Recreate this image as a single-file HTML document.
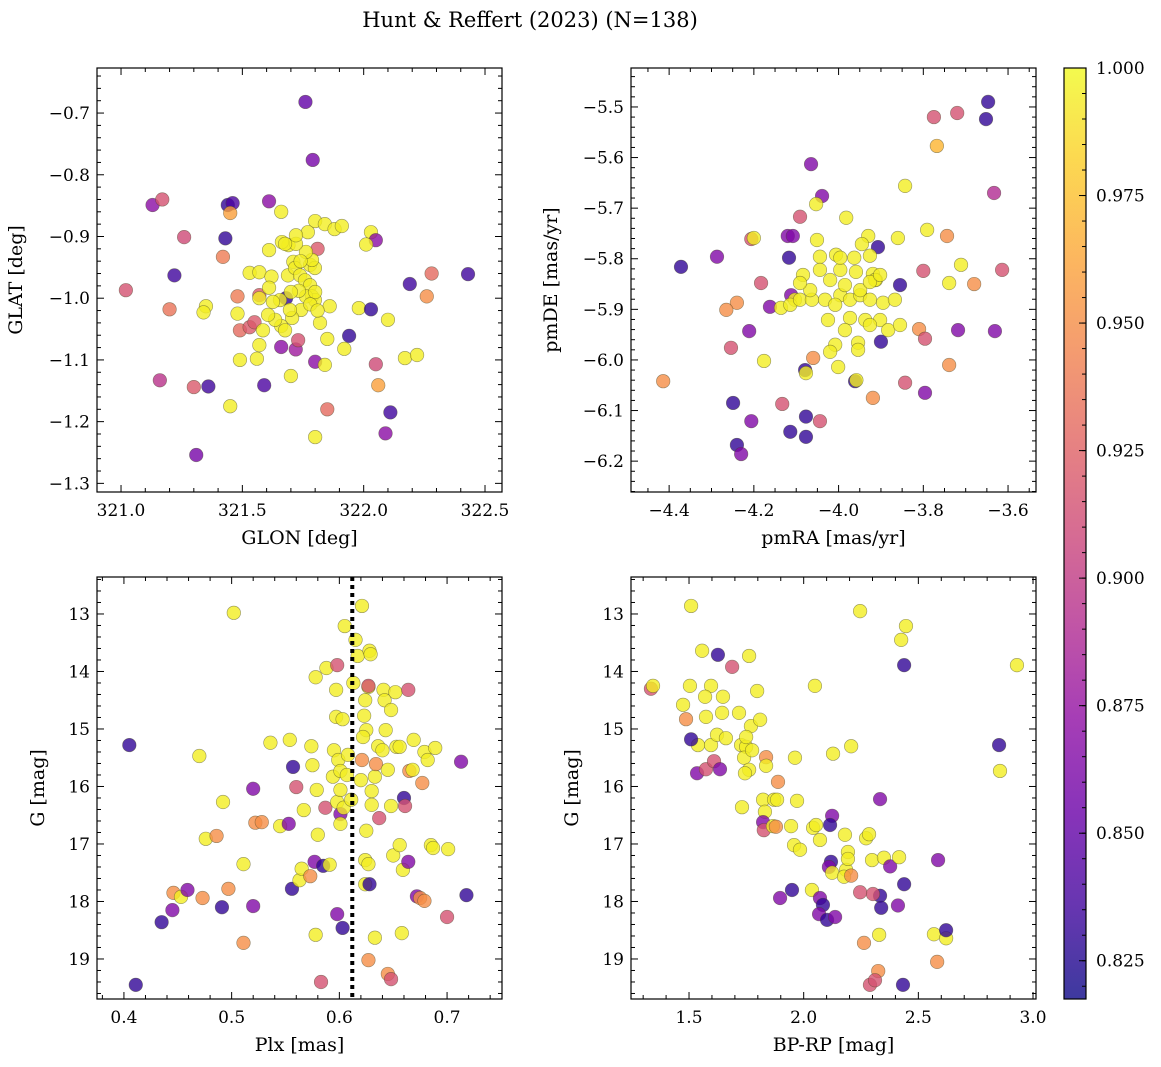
<!DOCTYPE html>
<html><head><meta charset="utf-8">
<style>
html,body{margin:0;padding:0;background:#fff;}
svg{display:block;font-family:"DejaVu Serif","Liberation Serif",serif;}
</style></head>
<body>
<svg id="fig" width="1161" height="1067" viewBox="0 0 1161 1067" xmlns="http://www.w3.org/2000/svg">
<text x="530" y="27" font-size="21" text-anchor="middle">Hunt &amp; Reffert (2023) (N=138)</text>
<defs>
<linearGradient id="cbgrad" x1="0" y1="1" x2="0" y2="0">
<stop offset="0" stop-color="#0d0887"/><stop offset="0.1" stop-color="#41049d"/><stop offset="0.2" stop-color="#6a00a8"/><stop offset="0.3" stop-color="#8f0da4"/><stop offset="0.4" stop-color="#b12a90"/><stop offset="0.5" stop-color="#cc4778"/><stop offset="0.6" stop-color="#e16462"/><stop offset="0.7" stop-color="#f2844b"/><stop offset="0.8" stop-color="#fca636"/><stop offset="0.9" stop-color="#fcce25"/><stop offset="1" stop-color="#f0f921"/>
</linearGradient>
</defs>
</svg>
<script>
// ---------- data ----------
const Y = .995, O = .95, K = .915, U = .865, D = .83;
const skyPoints = [[321.76,-0.682,.85],[321.79,-0.776,.86],[321.02,-0.987,K],[321.13,-0.849,.87],[321.17,-0.840,K],[321.20,-1.018,.935],[321.26,-0.901,.91],[321.22,-0.963,.835],[321.16,-1.133,.895],[321.30,-1.144,.92],[321.36,-1.143,.835],[321.31,-1.254,.86],[321.35,-1.013,Y],[321.34,-1.023,Y],[321.44,-0.849,D],[321.46,-0.846,.84],[321.45,-0.862,.96],[321.43,-0.903,D],[321.42,-0.933,.94],[321.45,-1.175,Y],[321.48,-0.997,.94],[321.48,-1.025,Y],[321.49,-1.052,.93],[321.49,-1.100,Y],[321.53,-0.959,Y],[321.53,-1.047,.92],[321.55,-1.039,.92],[321.57,-0.995,.92],[321.57,-1.000,Y],[321.57,-0.958,Y],[321.56,-1.098,Y],[321.57,-1.076,Y],[321.59,-1.141,.84],[321.61,-0.843,.87],[321.61,-0.922,Y],[321.62,-0.965,Y],[321.61,-0.983,Y],[321.66,-0.860,Y],[321.68,-1.000,D],[321.66,-1.045,Y],[321.66,-1.079,.87],[321.70,-1.126,Y],[321.72,-1.083,.88],[321.73,-1.068,K],[321.69,-0.914,Y],[321.71,-0.941,Y],[321.80,-0.875,Y],[321.84,-0.880,Y],[321.88,-0.888,Y],[321.91,-0.883,Y],[321.80,-1.225,Y],[321.80,-1.103,.87],[321.84,-1.108,Y],[321.85,-1.180,.93],[321.82,-1.040,Y],[321.85,-1.066,Y],[321.86,-1.013,Y],[321.94,-1.061,D],[321.92,-1.082,Y],[321.98,-1.016,Y],[322.03,-1.018,D],[322.03,-0.893,Y],[322.05,-0.906,.87],[322.01,-0.913,Y],[322.05,-1.107,.91],[322.06,-1.141,.96],[322.10,-1.035,Y],[322.11,-1.185,.835],[322.09,-1.219,.87],[322.17,-1.097,Y],[322.22,-1.092,Y],[322.19,-0.977,.835],[322.26,-0.997,O],[322.28,-0.960,.93],[322.43,-0.961,.835],[321.81,-0.92,.92],
[321.663,-0.909,Y],[321.688,-0.963,Y],[321.717,-0.951,Y],[321.738,-0.963,Y],[321.758,-0.971,Y],[321.779,-0.979,Y],[321.787,-0.997,Y],[321.799,-1.003,Y],[321.762,-0.997,Y],[321.733,-0.988,Y],[321.742,-1.019,Y],[321.705,-1.032,Y],[321.676,-1.052,Y],[321.696,-1.019,Y],[321.635,-1.035,Y],[321.606,-1.027,Y],[321.585,-1.052,Y],[321.655,-1.003,Y],[321.626,-1.006,Y],[321.779,-0.946,Y],[321.799,-0.951,Y],[321.787,-0.938,Y],[321.762,-0.925,Y],[321.721,-0.912,Y],[321.770,-0.893,Y],[321.721,-0.898,Y],[321.676,-0.912,Y],[321.80,-0.99,Y],[321.74,-0.94,Y],[321.70,-0.99,Y],[321.78,-1.01,Y],[321.81,-1.02,Y]];
const pmPoints = [[-3.647,-5.490,D],[-3.652,-5.524,D],[-3.775,-5.520,K],[-3.720,-5.512,K],[-3.768,-5.577,.97],[-4.065,-5.613,U],[-3.843,-5.656,Y],[-3.633,-5.670,.89],[-4.039,-5.676,U],[-4.053,-5.692,Y],[-3.982,-5.719,Y],[-4.091,-5.717,K],[-3.744,-5.755,O],[-3.930,-5.755,Y],[-3.791,-5.743,Y],[-3.860,-5.759,Y],[-3.907,-5.777,D],[-4.12,-5.755,U],[-4.108,-5.755,U],[-4.206,-5.761,K],[-4.200,-5.759,Y],[-4.287,-5.796,U],[-4.372,-5.816,D],[-4.117,-5.798,D],[-4.051,-5.763,Y],[-4.044,-5.796,Y],[-4.006,-5.792,Y],[-3.963,-5.798,Y],[-3.919,-5.830,Y],[-3.912,-5.842,Y],[-3.711,-5.812,Y],[-3.614,-5.822,K],[-3.800,-5.824,K],[-3.739,-5.848,Y],[-3.680,-5.850,O],[-3.855,-5.852,D],[-4.183,-5.848,K],[-4.084,-5.832,Y],[-4.112,-5.872,U],[-4.103,-5.881,Y],[-4.162,-5.895,U],[-4.24,-5.887,O],[-4.265,-5.901,O],[-3.631,-5.943,U],[-3.718,-5.941,U],[-3.810,-5.939,O],[-3.900,-5.964,D],[-4.254,-5.976,K],[-4.211,-5.943,U],[-4.176,-6.002,Y],[-4.06,-5.996,O],[-4.079,-6.020,D],[-4.077,-6.026,Y],[-4.001,-6.014,Y],[-3.739,-6.010,O],[-3.796,-5.958,K],[-3.796,-6.065,U],[-3.843,-6.045,K],[-3.919,-6.075,O],[-3.961,-6.042,D],[-3.958,-6.040,Y],[-4.414,-6.042,O],[-4.044,-6.121,K],[-4.133,-6.087,K],[-4.249,-6.085,D],[-4.114,-6.142,D],[-4.077,-6.152,D],[-4.077,-6.112,D],[-4.206,-6.121,U],[-4.240,-6.168,D],[-4.230,-6.186,U],
[-4.136,-5.897,Y],[-4.114,-5.891,Y],[-4.091,-5.881,Y],[-4.063,-5.881,Y],[-4.032,-5.881,Y],[-3.996,-5.872,Y],[-3.973,-5.881,Y],[-3.949,-5.872,Y],[-3.926,-5.881,Y],[-3.895,-5.887,Y],[-3.867,-5.881,Y],[-3.973,-5.917,Y],[-3.937,-5.921,Y],[-3.902,-5.921,Y],[-4.008,-5.891,Y],[-4.025,-5.921,Y],[-3.985,-5.941,Y],[-3.926,-5.931,Y],[-3.954,-5.966,Y],[-4.008,-5.970,Y],[-4.020,-5.984,Y],[-3.954,-5.980,Y],[-3.883,-5.941,Y],[-3.855,-5.931,Y],[-3.914,-5.842,Y],[-3.949,-5.862,Y],[-3.985,-5.852,Y],[-4.020,-5.842,Y],[-4.067,-5.862,Y],[-4.091,-5.848,Y],[-4.044,-5.822,Y],[-3.996,-5.822,Y],[-3.959,-5.826,Y],[-3.926,-5.794,Y],[-3.945,-5.771,Y],[-3.996,-5.798,Y],[-3.926,-5.846,Y],[-3.902,-5.832,Y]];
const plxPoints = [[0.405,15.28,D],[0.411,19.45,D],[0.435,18.36,D],[0.445,18.15,U],[0.446,17.85,O],[0.453,17.92,Y],[0.459,17.80,U],[0.473,17.94,O],[0.470,15.47,Y],[0.476,16.91,Y],[0.486,16.86,O],[0.492,16.27,Y],[0.491,18.10,D],[0.497,17.78,O],[0.502,12.98,Y],[0.511,17.35,Y],[0.511,18.72,O],[0.520,18.08,U],[0.520,16.04,U],[0.522,16.63,O],[0.528,16.62,O],[0.536,15.24,Y],[0.545,16.69,Y],[0.553,16.65,U],[0.554,15.19,Y],[0.557,15.66,D],[0.556,17.78,D],[0.560,16.01,K],[0.563,17.63,Y],[0.565,17.43,Y],[0.567,16.41,Y],[0.573,17.56,O],[0.574,15.30,Y],[0.575,15.63,Y],[0.577,17.31,U],[0.578,14.10,Y],[0.578,18.58,Y],[0.579,16.06,Y],[0.580,16.84,Y],[0.583,19.40,K],[0.585,17.38,D],[0.587,16.37,K],[0.588,13.94,Y],[0.591,17.36,Y],[0.594,15.83,Y],[0.595,15.37,Y],[0.598,13.89,K],[0.597,14.32,Y],[0.597,14.79,Y],[0.598,16.27,Y],[0.598,18.22,U],[0.599,15.54,Y],[0.601,16.48,U],[0.603,18.46,D],[0.603,14.83,Y],[0.605,13.21,Y],[0.601,15.73,Y],[0.601,16.65,Y],[0.604,16.37,Y],[0.601,16.06,Y],[0.607,15.80,Y],[0.608,15.45,Y],[0.611,16.23,Y],[0.613,14.20,Y],[0.615,13.45,Y],[0.617,13.73,Y],[0.620,15.89,Y],[0.621,15.54,O],[0.621,12.86,Y],[0.623,14.77,Y],[0.625,15.02,Y],[0.622,15.14,Y],[0.624,14.50,Y],[0.627,14.27,Y],[0.625,16.77,Y],[0.624,17.28,Y],[0.624,17.70,Y],[0.627,19.02,O],[0.627,17.35,Y],[0.628,13.64,Y],[0.629,13.70,Y],[0.627,14.25,K],[0.628,17.70,D],[0.630,16.08,Y],[0.630,16.32,Y],[0.633,15.83,Y],[0.634,15.61,O],[0.633,18.63,Y],[0.636,15.30,Y],[0.637,16.55,K],[0.640,15.37,Y],[0.641,14.32,Y],[0.642,14.50,Y],[0.643,15.02,Y],[0.648,14.67,Y],[0.645,15.71,Y],[0.648,16.34,Y],[0.650,17.20,Y],[0.645,19.26,O],[0.648,19.35,K],[0.652,14.36,Y],[0.653,15.31,Y],[0.656,15.31,Y],[0.656,17.02,Y],[0.658,18.55,Y],[0.659,17.45,Y],[0.660,16.20,D],[0.661,16.34,K],[0.664,14.32,K],[0.664,17.31,U],[0.665,15.73,O],[0.668,15.71,Y],[0.669,15.19,Y],[0.672,17.91,U],[0.675,17.94,O],[0.679,17.99,O],[0.677,15.94,O],[0.679,15.40,Y],[0.682,15.54,Y],[0.685,17.02,Y],[0.687,17.07,Y],[0.689,15.33,Y],[0.700,18.27,K],[0.701,17.09,Y],[0.713,15.57,U],[0.718,17.89,D]];
const cmdPoints = [[1.509,12.86,Y],[1.334,14.30,K],[1.343,14.25,Y],[1.557,13.64,Y],[1.626,13.71,D],[1.688,13.92,K],[1.762,13.73,Y],[1.504,14.25,Y],[1.596,14.25,Y],[1.648,14.44,Y],[1.644,14.72,Y],[1.718,14.72,Y],[1.797,14.34,Y],[1.474,14.58,Y],[1.487,14.83,O],[1.574,14.79,Y],[1.570,14.44,Y],[1.596,15.28,Y],[1.539,15.28,Y],[1.509,15.18,D],[1.535,15.77,U],[1.574,15.70,K],[1.609,15.56,K],[1.622,15.10,Y],[1.635,15.70,U],[1.661,15.16,Y],[1.727,15.28,Y],[1.749,15.31,Y],[1.740,15.50,Y],[1.762,15.71,Y],[1.775,15.37,Y],[1.744,15.77,Y],[1.731,16.36,Y],[1.770,14.95,Y],[1.749,15.14,Y],[1.810,14.84,Y],[1.836,15.49,O],[1.836,15.64,Y],[1.823,16.23,Y],[1.831,16.44,Y],[1.871,16.23,Y],[1.884,16.23,Y],[1.823,16.62,U],[1.826,16.76,K],[1.866,16.69,Y],[1.879,16.70,O],[1.888,15.92,O],[1.945,16.69,Y],[1.962,15.50,Y],[1.971,16.25,Y],[1.958,17.02,Y],[1.984,17.10,Y],[1.897,17.94,U],[1.949,17.80,D],[2.036,17.80,Y],[2.071,17.94,U],[2.084,18.06,D],[2.067,18.22,U],[2.102,18.32,D],[2.137,18.27,U],[2.124,16.51,U],[2.115,16.67,D],[2.041,16.72,Y],[2.054,16.67,Y],[2.071,16.93,Y],[2.049,14.25,Y],[2.128,15.43,Y],[2.180,16.84,Y],[2.193,17.14,Y],[2.207,15.30,Y],[2.185,17.45,Y],[2.193,17.26,Y],[2.119,17.31,D],[2.110,17.40,U],[2.124,17.50,Y],[2.176,17.57,Y],[2.207,17.55,O],[2.246,12.95,Y],[2.272,16.90,Y],[2.285,16.83,Y],[2.298,17.28,Y],[2.350,17.24,Y],[2.333,16.22,U],[2.329,18.58,Y],[2.325,19.21,O],[2.289,19.45,K],[2.311,19.37,K],[2.263,18.72,O],[2.333,17.90,D],[2.338,18.11,D],[2.302,17.87,K],[2.246,17.84,K],[2.377,17.39,U],[2.411,18.07,U],[2.416,17.23,Y],[2.438,17.70,D],[2.433,19.45,D],[2.446,13.21,Y],[2.425,13.45,Y],[2.438,13.89,D],[2.586,17.28,U],[2.582,19.05,O],[2.568,18.57,Y],[2.621,18.64,Y],[2.621,18.50,D],[2.852,15.28,D],[2.856,15.73,Y],[2.930,13.89,Y]];
const cbTicks = [0.825,0.850,0.875,0.900,0.925,0.950,0.975,1.000];
const plxCut = 0.612;

const NS = "http://www.w3.org/2000/svg";
const svg = document.getElementById('fig');
const VMIN = 0.8175, VMAX = 1.0;
const stops = [[13,8,135],[65,4,157],[106,0,168],[143,13,164],[177,42,144],[204,71,120],[225,100,98],[242,132,75],[252,166,54],[252,206,37],[240,249,33]];
function cmap(v){
  let t = Math.max(0, Math.min(1, (v - VMIN) / (VMAX - VMIN))) * 10;
  let i = Math.min(9, Math.floor(t)), f = t - i;
  const a = stops[i], b = stops[i+1];
  return 'rgb(' + a.map((c,k)=>Math.round(c + (b[k]-c)*f)).join(',') + ')';
}
function el(tag, attrs, parent){
  const e = document.createElementNS(NS, tag);
  for (const k in attrs) e.setAttribute(k, attrs[k]);
  (parent || svg).appendChild(e);
  return e;
}
function fmt(v, d){ return (v < 0 ? '\u2212' : '') + Math.abs(v).toFixed(d); }

function panel(cfg){
  const g = el('g', {});
  
  
  const L = cfg.box[0], T = cfg.box[1], R = cfg.box[2], B = cfg.box[3];
  const sx = v => L + (v - cfg.xr[0]) / (cfg.xr[1] - cfg.xr[0]) * (R - L);
  const sy = v => cfg.yinv ? T + (v - cfg.yr[0]) / (cfg.yr[1] - cfg.yr[0]) * (B - T)
                           : B - (v - cfg.yr[0]) / (cfg.yr[1] - cfg.yr[0]) * (B - T);
  const pg = el('g', {}, g);
  
  
  cfg.pts.forEach(d => {
    const c = el('circle', {cx: sx(d[0]), cy: sy(d[1]), r: 6.8, fill: cmap(d[2]), 'fill-opacity': 0.8, stroke: 'rgba(70,70,40,0.55)', 'stroke-width': 0.6}, pg);
    
    
  });
  if (cfg.vline !== undefined) {
    const l = el('line', {x1: sx(cfg.vline), x2: sx(cfg.vline), y1: T, y2: B, stroke: '#000', 'stroke-width': 4, 'stroke-dasharray': '4 4'}, g);
    
    
  }
  const tg = el('g', {stroke: '#000', 'stroke-width': 1}, g);
  const eps = 1e-9;
  for (let v = Math.ceil(cfg.xr[0] / cfg.xmin - eps) * cfg.xmin; v <= cfg.xr[1] + eps; v += cfg.xmin) {
    const x = sx(v);
    const major = Math.abs(v / cfg.xmaj - Math.round(v / cfg.xmaj)) < 1e-6;
    const len = major ? 7 : 4;
    el('line', {x1: x, x2: x, y1: B, y2: B - len}, tg);
    el('line', {x1: x, x2: x, y1: T, y2: T + len}, tg);
    if (major) {
      const t = el('text', {x: x, y: B + 24, 'font-size': 17, 'text-anchor': 'middle', stroke: 'none', fill: '#000'}, g);
      t.textContent = fmt(Math.round(v / cfg.xmaj) * cfg.xmaj, cfg.xd);
      
      
    }
  }
  for (let v = Math.ceil(cfg.yr[0] / cfg.ymin - eps) * cfg.ymin; v <= cfg.yr[1] + eps; v += cfg.ymin) {
    const y = sy(v);
    const major = Math.abs(v / cfg.ymaj - Math.round(v / cfg.ymaj)) < 1e-6;
    const len = major ? 7 : 4;
    el('line', {x1: L, x2: L + len, y1: y, y2: y}, tg);
    el('line', {x1: R, x2: R - len, y1: y, y2: y}, tg);
    if (major) {
      const t = el('text', {x: L - 7, y: y + 6, 'font-size': 17, 'text-anchor': 'end', stroke: 'none', fill: '#000'}, g);
      t.textContent = fmt(Math.round(v / cfg.ymaj) * cfg.ymaj, cfg.yd);
      
      
    }
  }
  const fr = el('rect', {x: L, y: T, width: R - L, height: B - T, fill: 'none', stroke: '#000', 'stroke-width': 1.2}, g);
  
  
  const xl = el('text', {x: (L + R) / 2, y: B + 52, 'font-size': 19, 'text-anchor': 'middle'}, g);
  xl.textContent = cfg.xlabel;
  
  
  const yl = el('text', {x: cfg.ylx, y: (T + B) / 2, 'font-size': 19, 'text-anchor': 'middle', transform: 'rotate(-90 ' + cfg.ylx + ' ' + (T + B) / 2 + ')'}, g);
  yl.textContent = cfg.ylabel;
  
  
}

panel({name: 'sky-panel', box: [97, 68, 502, 492], xr: [320.901, 322.570], yr: [-1.314, -0.627], pts: skyPoints,
  xmaj: 0.5, xmin: 0.1, ymaj: 0.1, ymin: 0.02, xd: 1, yd: 1, xlabel: 'GLON [deg]', ylabel: 'GLAT [deg]', ylx: 22});
panel({name: 'proper-motion-panel', box: [631, 68, 1036, 492], xr: [-4.490, -3.534], yr: [-6.261, -5.423], pts: pmPoints,
  xmaj: 0.2, xmin: 0.05, ymaj: 0.1, ymin: 0.02, xd: 1, yd: 1, xlabel: 'pmRA [mas/yr]', ylabel: 'pmDE [mas/yr]', ylx: 557});
panel({name: 'parallax-panel', box: [97, 577, 502, 999], xr: [0.375, 0.751], yr: [12.357, 19.696], yinv: true, pts: plxPoints, vline: plxCut,
  xmaj: 0.1, xmin: 0.02, ymaj: 1, ymin: 0.2, xd: 1, yd: 0, xlabel: 'Plx [mas]', ylabel: 'G [mag]', ylx: 44});
panel({name: 'cmd-panel', box: [631, 577, 1036, 999], xr: [1.247, 3.013], yr: [12.357, 19.696], yinv: true, pts: cmdPoints,
  xmaj: 0.5, xmin: 0.1, ymaj: 1, ymin: 0.2, xd: 1, yd: 0, xlabel: 'BP-RP [mag]', ylabel: 'G [mag]', ylx: 578});

const cb = el('g', {});


const CL = 1064, CR = 1086, CT = 68, CB = 999;
el('rect', {x: CL, y: CT, width: CR - CL, height: CB - CT, fill: 'url(#cbgrad)', 'fill-opacity': 0.8}, cb);
el('rect', {x: CL, y: CT, width: CR - CL, height: CB - CT, fill: 'none', stroke: '#000', 'stroke-width': 1.2}, cb);
const cy = v => CB - (v - VMIN) / (VMAX - VMIN) * (CB - CT);
for (let v = 0.82; v <= 1.0001; v += 0.005) {
  const y = cy(v);
  if (y < CT - 0.5 || y > CB + 0.5) continue;
  el('line', {x1: CR, x2: CR - 4, y1: y, y2: y, stroke: '#000', 'stroke-width': 1}, cb);
}
cbTicks.forEach(v => {
  const y = cy(v);
  el('line', {x1: CR, x2: CR - 7, y1: y, y2: y, stroke: '#000', 'stroke-width': 1}, cb);
  const t = el('text', {x: CR + 10, y: y + 6, 'font-size': 17}, cb);
  t.textContent = v.toFixed(3);
  
  
});
</script>
</body></html>
